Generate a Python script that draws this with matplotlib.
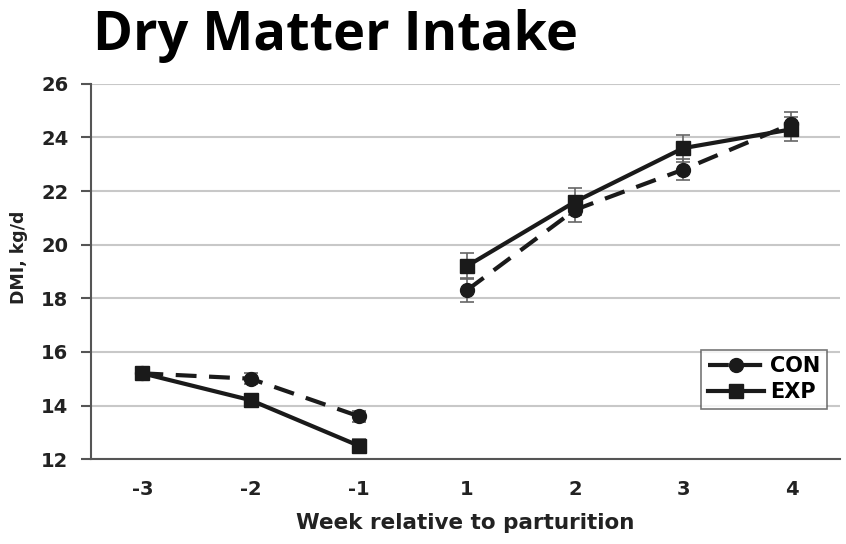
import numpy as np
import matplotlib.pyplot as plt

# Weekly dry matter intake around calving
weeks = ["-3", "-2", "-1", "1", "2", "3", "4"]
con_dmi = [15.2, 15.0, 13.6, 18.3, 21.3, 22.8, 24.5]
exp_dmi = [15.2, 14.2, 12.5, 19.2, 21.6, 23.6, 24.3]
con_se = [0.15, 0.2, 0.2, 0.45, 0.45, 0.4, 0.45]
exp_se = [0.15, 0.2, 0.25, 0.5, 0.5, 0.5, 0.45]

x = np.arange(len(weeks))
pre = x < 3
post = ~pre

fig = plt.figure(figsize=(8.46, 5.44), dpi=100)
ax = fig.add_axes([0.107, 0.156, 0.886, 0.690])

fig.text(0.110, 0.908, "Dry Matter Intake", fontsize=39, fontweight="bold",
         family="Open Sans", va="baseline", ha="left")

err_kw = dict(fmt="none", ecolor="#666666", elinewidth=1.2, capsize=5, capthick=1.2, zorder=2)

for mask in (pre, post):
    ax.errorbar(x[mask], np.array(con_dmi)[mask], yerr=np.array(con_se)[mask], **err_kw)
    ax.errorbar(x[mask], np.array(exp_dmi)[mask], yerr=np.array(exp_se)[mask], **err_kw)

for i, mask in enumerate((pre, post)):
    ax.plot(x[mask], np.array(con_dmi)[mask], color="#1a1a1a", lw=3, dashes=(5, 3),
            marker="o", ms=10, zorder=3, label="CON" if i == 0 else None)
    ax.plot(x[mask], np.array(exp_dmi)[mask], color="#1a1a1a", lw=3,
            marker="s", ms=10, zorder=3, label="EXP" if i == 0 else None)

ax.set_xlim(-0.48, 6.45)
ax.set_ylim(12, 26)
ax.set_yticks(np.arange(12, 27, 2))
ax.set_xticks(x)
ax.set_xticklabels(weeks)
ax.yaxis.grid(True, color="#c8c8c8", lw=1.5)
ax.set_axisbelow(True)

for s in ("top", "right"):
    ax.spines[s].set_visible(False)
for s in ("left", "bottom"):
    ax.spines[s].set_color("#555555")
    ax.spines[s].set_linewidth(1.5)

font = "DejaVu Sans"
ax.tick_params(axis="x", length=0, pad=15)
ax.tick_params(axis="y", length=7, width=1.5, color="#555555", pad=9)
for lab in ax.get_xticklabels() + ax.get_yticklabels():
    lab.set_fontweight("bold")
    lab.set_fontsize(14)
    lab.set_family(font)
    lab.set_color("#222222")

ax.set_ylabel("DMI, kg/d", fontsize=12.5, fontweight="bold", family=font,
              color="#222222")
ax.yaxis.set_label_coords(-0.084, 0.537)
ax.set_xlabel("Week relative to parturition", fontsize=15.5, fontweight="bold",
              family=font, color="#222222", labelpad=10)

leg = ax.legend(loc="lower right", bbox_to_anchor=(0.996, 0.107), frameon=True, fancybox=False,
                handlelength=2.7, handletextpad=0.3, borderpad=0.3, labelspacing=0.3,
                prop=dict(family=font, weight="bold", size=15))
leg.get_frame().set_edgecolor("#555555")
leg.get_frame().set_linewidth(1.2)

fig.savefig("out.png", dpi=100)
